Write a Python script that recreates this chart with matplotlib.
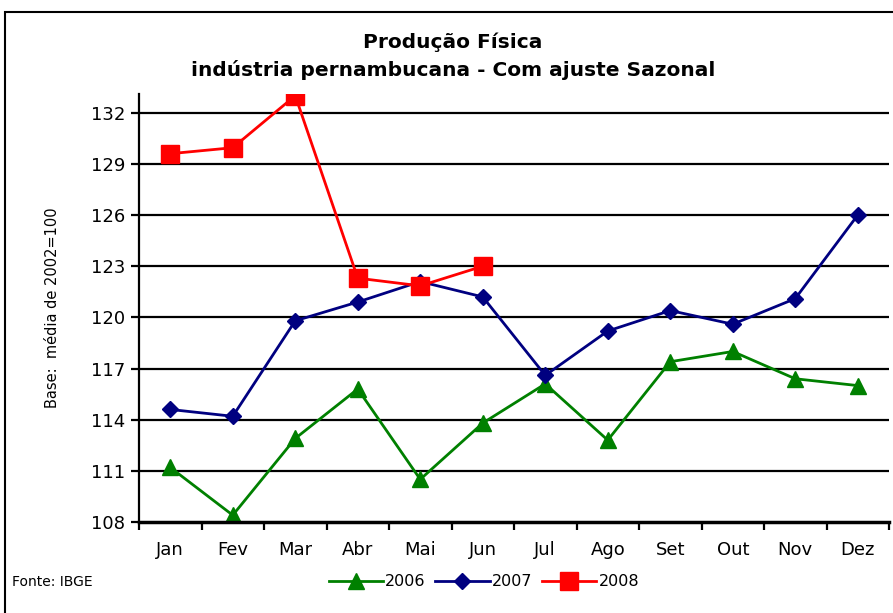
import matplotlib.pyplot as plt
from matplotlib.patches import Rectangle
import numpy as np

months = ["Jan", "Fev", "Mar", "Abr", "Mai", "Jun",
          "Jul", "Ago", "Set", "Out", "Nov", "Dez"]
prod2006 = [111.2, 108.4, 112.9, 115.8, 110.5, 113.8,
            116.1, 112.8, 117.4, 118.0, 116.4, 116.0]
prod2007 = [114.6, 114.2, 119.8, 120.9, 122.1, 121.2,
            116.6, 119.2, 120.4, 119.6, 121.1, 126.0]
prod2008 = [129.6, 129.95, 133.0, 122.3, 121.85, 123.0]
yticks = [108, 111, 114, 117, 120, 123, 126, 129, 132]

plt.rcParams['font.family'] = ['DejaVu Sans']

fig = plt.figure(figsize=(8.93, 6.13), dpi=100)
ax = fig.add_axes([139/893, 1 - 522/613, (889 - 139)/893, (522 - 94)/613])

x = np.arange(len(months))
ax.plot(x, prod2006, color="#008000", lw=2, marker="^", ms=12, label="2006")
ax.plot(x, prod2007, color="#000080", lw=2, marker="D", ms=8.5, label="2007")
ax.plot(np.arange(len(prod2008)), prod2008, color="#ff0000", lw=2,
        marker="s", ms=13, label="2008")

ax.set_xlim(-0.5, 11.5)
ax.set_ylim(108, 133.1)
ax.set_yticks(yticks)
ax.set_yticklabels([str(v) for v in yticks], fontsize=13)
for v in yticks[1:]:
    ax.axhline(v, color="black", lw=1.6, zorder=0)

ax.set_xticks(np.arange(-0.5, 12, 1))
ax.set_xticklabels([])
ax.set_xticks(x, minor=True)
ax.set_xticklabels(months, minor=True, fontsize=13)
ax.tick_params(axis="x", which="minor", length=0, pad=14)
ax.tick_params(axis="x", which="major", direction="out", length=6, width=1.6)
ax.tick_params(axis="y", direction="out", length=6, width=1.6, pad=4)

for s in ["top", "right"]:
    ax.spines[s].set_visible(False)
ax.spines["left"].set_linewidth(1.6)
ax.spines["bottom"].set_linewidth(2.5)

ax.set_ylabel("Base:  média de 2002=100", fontsize=10.5, labelpad=22)

fig.text(453/893, 1 - 42/613, "Produção Física", ha="center", va="center",
         fontsize=14.5, fontweight="bold")
fig.text(453/893, 1 - 70/613, "indústria pernambucana - Com ajuste Sazonal",
         ha="center", va="center", fontsize=14.5, fontweight="bold")
fig.text(12/893, 1 - 582/613, "Fonte: IBGE", ha="left", va="center", fontsize=10)

ax.legend(loc="center", bbox_to_anchor=(0.46, (522 - 582)/428),
          ncol=3, frameon=False, fontsize=11.5, handlelength=3.4,
          handletextpad=0.15, columnspacing=0.6, borderaxespad=0)

fig.patches.append(Rectangle((5/893, -0.05), 1.0, 1 - 12/613 + 0.05,
                             transform=fig.transFigure, fill=False,
                             edgecolor="black", lw=1.5))

fig.savefig("out.png", dpi=100)
